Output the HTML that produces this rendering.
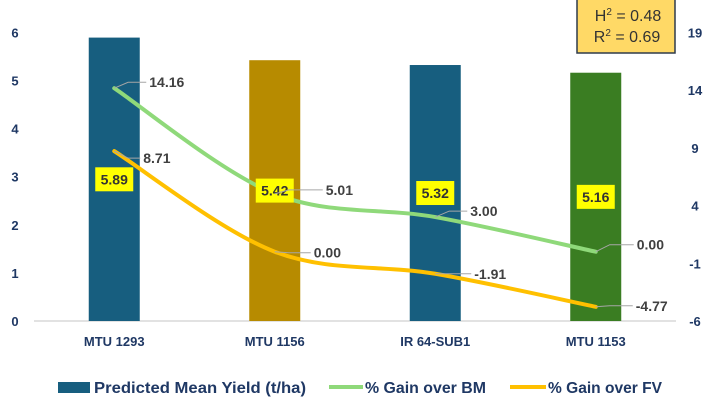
<!DOCTYPE html>
<html><head><meta charset="utf-8"><style>
body{margin:0;background:#fff;width:712px;height:413px;overflow:hidden;font-family:"Liberation Sans",sans-serif}
</style></head><body>
<svg id="chart" width="712" height="413" xmlns="http://www.w3.org/2000/svg"></svg>
<script>
const categories=["MTU 1293","MTU 1156","IR 64-SUB1","MTU 1153"];
const yieldValues=[5.89,5.42,5.32,5.16];
const barColors=["#175E7F","#B78B00","#175E7F","#3A7D22"];
const gainBM=[14.16,5.01,3.00,0.00];
const gainFV=[8.71,0.00,-1.91,-4.77];
const leftTicks=[0,1,2,3,4,5,6];
const rightTicks=[-6,-1,4,9,14,19];

const svg=document.getElementById('chart');
const NS="http://www.w3.org/2000/svg";
const X0=34,X1=676,Y0=321,Y1=32.3;
const band=(X1-X0)/categories.length;
const xc=i=>X0+band*(i+0.5);
const yL=v=>Y0-(v-0)/(6-0)*(Y0-Y1);
const yR=v=>Y0-(v+6)/(19+6)*(Y0-Y1);
function el(tag,attrs,text){const e=document.createElementNS(NS,tag);for(const k in attrs)e.setAttribute(k,attrs[k]);if(text!==undefined)e.textContent=text;svg.appendChild(e);return e;}
const navy="#1F3864";

let ax=el('line',{x1:X0,x2:X1,y1:Y0,y2:Y0,stroke:"#D9D9D9","stroke-width":1.5});



leftTicks.forEach(t=>{
  const e=el('text',{x:15,y:yL(t)+5,"text-anchor":"middle","font-size":13,"font-weight":"bold",fill:navy},String(t));
  
  
});
rightTicks.forEach(t=>{
  const e=el('text',{x:695,y:yR(t)+5,"text-anchor":"middle","font-size":13,"font-weight":"bold",fill:navy},String(t));
  
  
});

const bw=51;
yieldValues.forEach((v,i)=>{
  const b=el('rect',{x:xc(i)-bw/2,y:yL(v),width:bw,height:Y0-yL(v),fill:barColors[i]});
  
  
  const c=el('text',{x:xc(i),y:Y0+25,"text-anchor":"middle","font-size":13,"font-weight":"bold",fill:navy},categories[i]);
  
  
});

function pathFor(vals){
  const p=vals.map((v,i)=>[xc(i),yR(v)]);
  let d=`M${p[0][0]},${p[0][1]}`;
  const t=1/6;
  for(let i=0;i<p.length-1;i++){
    const p0=p[i-1]||p[i],p1=p[i],p2=p[i+1],p3=p[i+2]||p2;
    const c1=[p1[0]+(p2[0]-p0[0])*t,p1[1]+(p2[1]-p0[1])*t];
    const c2=[p2[0]-(p3[0]-p1[0])*t,p2[1]-(p3[1]-p1[1])*t];
    d+=` C${c1[0]},${c1[1]} ${c2[0]},${c2[1]} ${p2[0]},${p2[1]}`;
  }
  return d;
}
const lg=el('path',{d:pathFor(gainBM),fill:"none",stroke:"#8FD97A","stroke-width":4,"stroke-linecap":"round"});


const lo=el('path',{d:pathFor(gainFV),fill:"none",stroke:"#FFC000","stroke-width":4,"stroke-linecap":"round"});



yieldValues.forEach((v,i)=>{
  const cy=yL(v/2);
  const r=el('rect',{x:xc(i)-19,y:cy-12,width:38,height:24,fill:"#FFFF00"});
  
  
  const t=el('text',{x:xc(i),y:cy+5,"text-anchor":"middle","font-size":14,"font-weight":"bold",fill:"#333"},v.toFixed(2));
  
  
});

function lineLabels(vals,name,dxs,dys){
  vals.forEach((v,i)=>{
    const x=xc(i),y=yR(v);
    const lx=x+dxs[i], ly=y+dys[i];
    const l=el('polyline',{points:`${x},${y} ${x+14},${ly} ${lx-3},${ly}`,fill:"none",stroke:"#A6A6A6","stroke-width":1});
    
    
    const t=el('text',{x:lx,y:ly+5,"font-size":14,"font-weight":"bold",fill:"#404040"},v.toFixed(2));
    
    
  });
}
lineLabels(gainBM,'gain-bm',[35,51,35,41],[-6,-4,-6,-7]);
lineLabels(gainFV,'gain-fv',[29,39,39,40],[7,1,0,-1]);

const lr=el('rect',{x:58,y:382,width:32,height:11,fill:"#175E7F"});


const lt1=el('text',{x:94,y:393,"font-size":16,"font-weight":"bold",fill:navy,textLength:212,lengthAdjust:"spacingAndGlyphs"},"Predicted Mean Yield (t/ha)");


const ll2=el('line',{x1:329,x2:363,y1:387,y2:387,stroke:"#8FD97A","stroke-width":4});


const lt2=el('text',{x:365,y:393,"font-size":16,"font-weight":"bold",fill:navy,textLength:121,lengthAdjust:"spacingAndGlyphs"},"% Gain over BM");


const ll3=el('line',{x1:510,x2:546,y1:387,y2:387,stroke:"#FFC000","stroke-width":4});


const lt3=el('text',{x:548,y:393,"font-size":16,"font-weight":"bold",fill:navy,textLength:114,lengthAdjust:"spacingAndGlyphs"},"% Gain over FV");



const hb=el('rect',{x:577,y:-2,width:98,height:55,fill:"#FFD966",stroke:"#2F3B4C","stroke-width":1.5});


const h=el('text',{x:628,y:21,"text-anchor":"middle","font-size":16,fill:"#333"});
h.innerHTML='H<tspan dy="-6" font-size="10">2</tspan><tspan dy="6"> = 0.48</tspan>';


const r2=el('text',{x:627,y:42,"text-anchor":"middle","font-size":16,fill:"#333"});
r2.innerHTML='R<tspan dy="-6" font-size="10">2</tspan><tspan dy="6"> = 0.69</tspan>';


</script>
</body></html>
